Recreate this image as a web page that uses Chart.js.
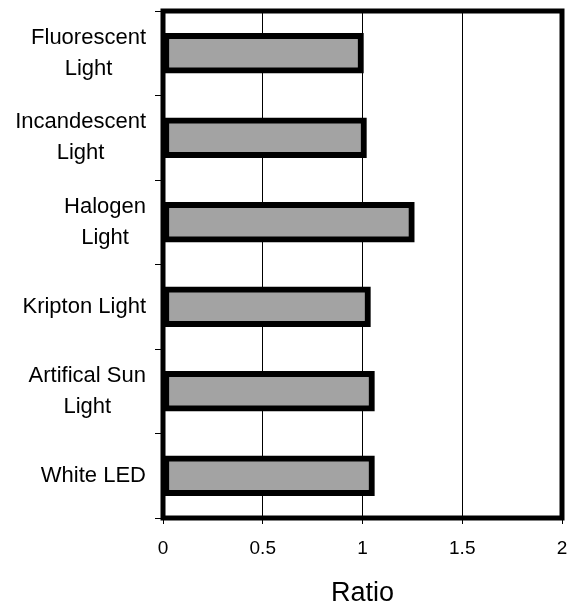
<!DOCTYPE html>
<html>
<head>
<meta charset="utf-8">
<script src="https://cdn.jsdelivr.net/npm/chart.js@4"></script>
<style>
  html, body { margin: 0; padding: 0; background: #fff; }
  #wrap { width: 567px; height: 606px; }
</style>
</head>
<body>
<div id="wrap"><canvas id="chart" width="567" height="606"></canvas></div>
<script>
// ------------------------
// DATA
// ------------------------
const categories = [
  ["Fluorescent", "Light"],
  ["Incandescent", "Light"],
  ["Halogen", "Light"],
  ["Kripton Light"],
  ["Artifical Sun", "Light"],
  ["White LED"]
];
const ratios = [1.005, 1.02, 1.26, 1.04, 1.06, 1.06];
const xTicks = [0, 0.5, 1, 1.5, 2];
const xTitle = "Ratio";

const FONT = "'Liberation Sans', Arial, sans-serif";

// category labels: right-aligned block, lines centered inside the block
const catLabels = {
  id: "catLabels",
  afterDraw(chart){
    const ctx = chart.ctx;
    const y = chart.scales.y;
    const right = 146, lh = 31;
    ctx.save();
    ctx.font = "22px " + FONT;
    ctx.fillStyle = "#000";
    ctx.textAlign = "center";
    ctx.textBaseline = "middle";
    categories.forEach((lines, i) => {
      const cy = y.getPixelForValue(i);
      const w = Math.max(...lines.map(l => ctx.measureText(l).width));
      const cx = right - w / 2;
      const y0 = cy - (lines.length - 1) * lh / 2;
      lines.forEach((l, k) => ctx.fillText(l, cx, y0 + k * lh));
    });
    ctx.restore();
  }
};

// thick frame round the plot area
const frame = {
  id: "frame",
  afterDatasetsDraw(chart){
    const { ctx, chartArea: a } = chart;
    ctx.save();
    ctx.strokeStyle = "#000";
    ctx.lineWidth = 5;
    ctx.strokeRect(a.left, a.top, a.right - a.left, a.bottom - a.top);
    ctx.restore();
  }
};

new Chart(document.getElementById("chart"), {
  type: "bar",
  data: {
    labels: categories,
    datasets: [{
      data: ratios,
      backgroundColor: "#a3a3a3",
      borderColor: "#000",
      borderWidth: 6,
      borderSkipped: false,
      barThickness: 40
    }]
  },
  options: {
    indexAxis: "y",
    responsive: false,
    animation: false,
    layout: { padding: { left: 0, top: 11, right: 5, bottom: 0 } },
    plugins: { legend: { display: false }, tooltip: { enabled: false } },
    scales: {
      x: {
        min: xTicks[0],
        max: xTicks[xTicks.length - 1],
        afterBuildTicks: s => { s.ticks = xTicks.map(v => ({ value: v })); },
        afterFit: s => { s.height = 88; s.paddingLeft = 0; s.paddingRight = 0; },
        border: { display: false },
        grid: { color: "#000", lineWidth: 1, tickLength: 6 },
        ticks: {
          color: "#000", padding: 13, font: { family: FONT, size: 19 },
          callback: v => String(v)
        },
        title: {
          display: true, text: xTitle, color: "#000",
          font: { family: FONT, size: 27 },
          padding: { top: 0, bottom: -4 }
        }
      },
      y: {
        afterFit: s => { s.width = 163; },
        border: { display: false },
        grid: { drawOnChartArea: false, offset: true, color: "#000", lineWidth: 1, tickLength: 8 },
        ticks: { display: false }
      }
    }
  },
  plugins: [catLabels, frame]
});
</script>
</body>
</html>
